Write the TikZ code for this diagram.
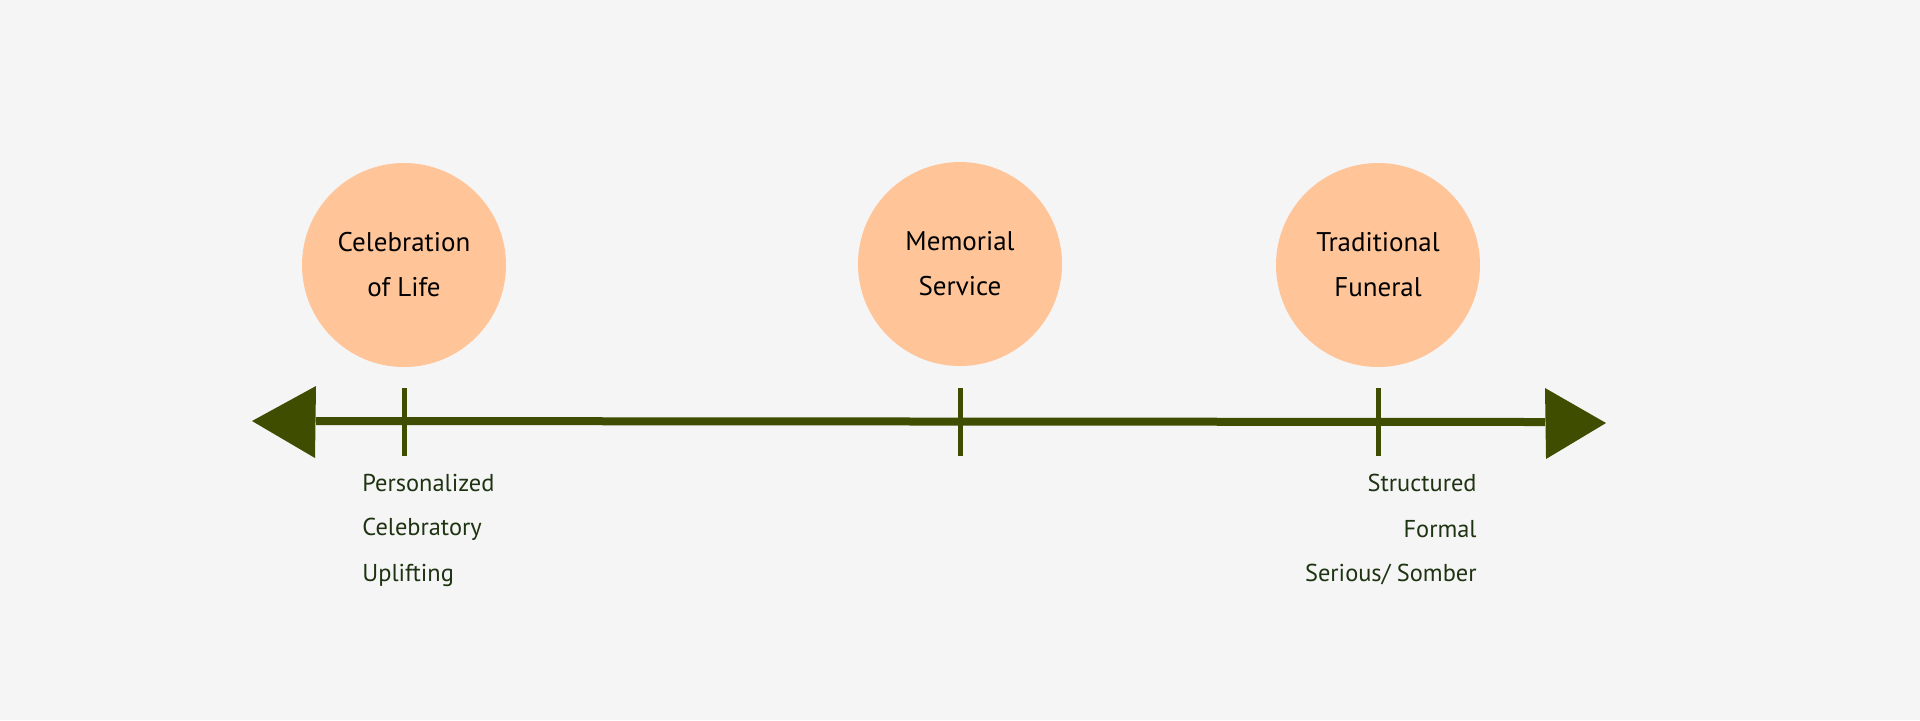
\documentclass[tikz,border=0pt]{standalone}
\usepackage{fontspec}
\setmainfont{PT Sans}
\definecolor{bg}{HTML}{F5F5F5}
\definecolor{axis}{HTML}{3F4D00}
\definecolor{peach}{HTML}{FFC599}
\definecolor{lbl}{HTML}{1E3312}
\begin{document}
\begin{tikzpicture}[x=0.5pt,y=-0.5pt,
  circ/.style={circle,fill=peach,minimum size=102pt,inner sep=0pt,align=center,font=\fontsize{13.5}{22.5}\selectfont,text=black},
  tick/.style={draw=axis,line width=2.5pt},
  lab/.style={font=\fontsize{12.2}{23}\selectfont,text=lbl,inner sep=0pt}]
\fill[bg] (0,0) rectangle (1920,720);
\useasboundingbox (0,0) rectangle (1920,720);
\coordinate (L) at (316,421);
\coordinate (R) at (1545,422);
\draw[axis,line width=4pt] (L) -- (R);
\fill[axis] (252,421) -- (316,386) -- (315,458) -- cycle;
\fill[axis] (1606,423) -- (1545,388) -- (1546,459) -- cycle;
\foreach \x/\n in {404/a,960/b,1378/c}{
  \draw[tick] (\x,388) coordinate (t\n) -- (\x,456);
}
\node[circ] (c1) at (404,265) {Celebration\\of Life};
\node[circ] (c2) at (960,264) {Memorial\\Service};
\node[circ] (c3) at (1378,265) {Traditional\\Funeral};
\node[lab,anchor=west] (l1) at (362,483) {Personalized};
\node[lab,anchor=west] (l2) at (362,529) {Celebratory};
\node[lab,anchor=west] (l3) at (362,575) {Uplifting};
\node[lab,anchor=east] (r1) at (1477,483) {Structured};
\node[lab,anchor=east] (r2) at (1477,529) {Formal};
\node[lab,anchor=east] (r3) at (1477,575) {Serious/ Somber};
\end{tikzpicture}
\end{document}
